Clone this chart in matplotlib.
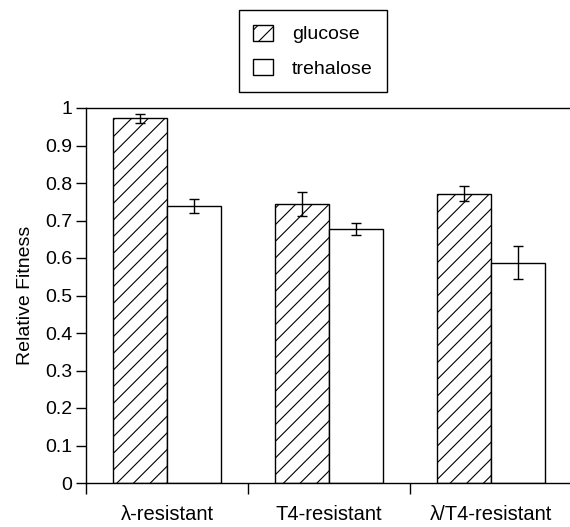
import matplotlib
matplotlib.use("Agg")
import matplotlib.pyplot as plt
import numpy as np

plt.rcParams['font.family'] = ['Liberation Sans', 'DejaVu Sans']
plt.rcParams['hatch.linewidth'] = 0.8

categories = ["λ-resistant", "T4-resistant", "λ/T4-resistant"]
glucose = [0.973, 0.744, 0.771]
glucose_err = [0.012, 0.031, 0.020]
trehalose = [0.739, 0.677, 0.588]
trehalose_err = [0.019, 0.016, 0.045]
yticks = [0, 0.1, 0.2, 0.3, 0.4, 0.5, 0.6, 0.7, 0.8, 0.9, 1]
ytick_labels = ["0", "0.1", "0.2", "0.3", "0.4", "0.5", "0.6", "0.7", "0.8", "0.9", "1"]

fig = plt.figure(figsize=(5.70, 5.27), dpi=100)
ax = fig.add_axes([86/570, 44/527, 486/570, 375/527])

x = np.arange(len(categories))
w = 1/3
b1 = ax.bar(x - w/2, glucose, w, color='white', edgecolor='black', linewidth=1.0,
            hatch='//', label='glucose')
b2 = ax.bar(x + w/2, trehalose, w, color='white', edgecolor='black', linewidth=1.0,
            label='trehalose')
ax.errorbar(x - w/2, glucose, yerr=glucose_err, fmt='none', ecolor='black',
            elinewidth=1.0, capsize=3.5, capthick=1.0)
ax.errorbar(x + w/2, trehalose, yerr=trehalose_err, fmt='none', ecolor='black',
            elinewidth=1.0, capsize=3.5, capthick=1.0)

ax.set_xlim(-0.5, len(categories) - 0.5)
ax.set_ylim(0, 1)
ax.set_yticks(yticks)
ax.set_yticklabels(ytick_labels, fontsize=14)
ax.tick_params(axis='y', direction='out', length=7, width=1.0, pad=3)

ax.set_xticks(np.arange(len(categories) + 1) - 0.5)
ax.set_xticklabels([])
ax.tick_params(axis='x', which='major', direction='out', length=8, width=1.0)
ax.set_xticks(x, minor=True)
ax.set_xticklabels(categories, minor=True, fontsize=14.5)
ax.tick_params(axis='x', which='minor', length=0, pad=16)

ax.set_ylabel("Relative Fitness", fontsize=14, labelpad=8)
for s in ax.spines.values():
    s.set_linewidth(1.0)

leg = fig.legend(handles=[b1, b2], labels=['glucose', 'trehalose'],
                 loc='upper center', bbox_to_anchor=(313/570, 1 - 10/527),
                 fontsize=14, frameon=True, fancybox=False, framealpha=1,
                 edgecolor='black', handlelength=1.0, handleheight=0.9,
                 handletextpad=1.0, borderpad=0.75, labelspacing=0.8,
                 borderaxespad=0)
leg.get_frame().set_linewidth(1.0)

fig.savefig("out.png", dpi=100)
